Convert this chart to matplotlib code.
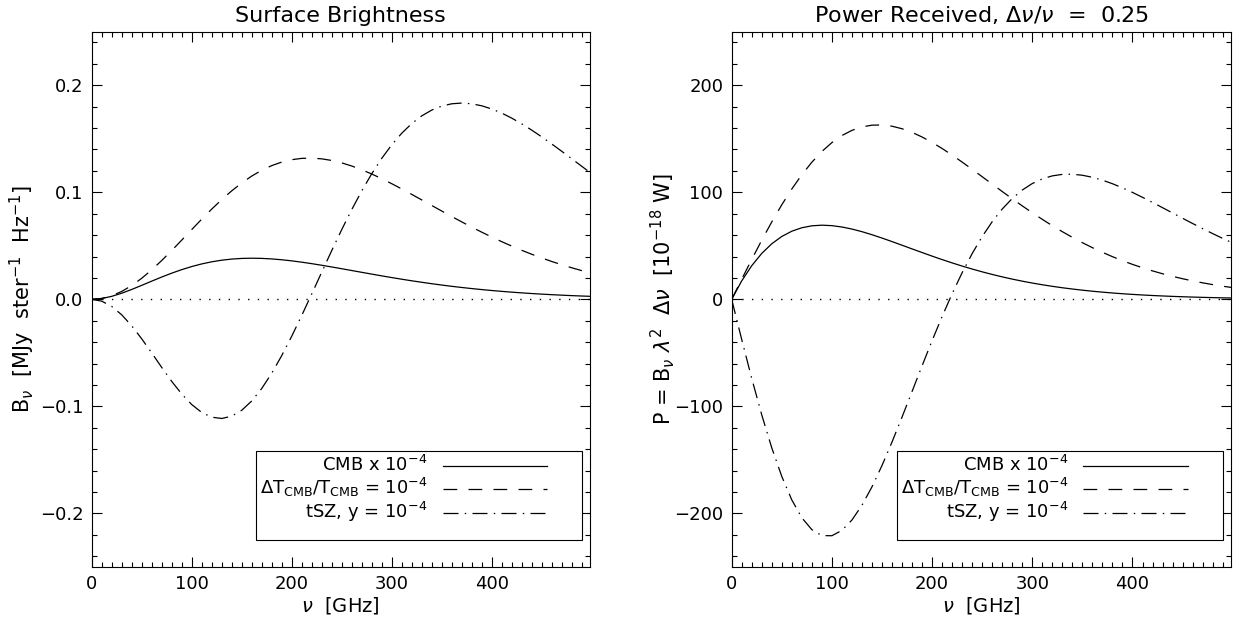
import matplotlib

matplotlib.use("Agg")
import matplotlib.pyplot as plt
from matplotlib.lines import Line2D
from matplotlib.legend_handler import HandlerLine2D
from matplotlib.ticker import MultipleLocator, FuncFormatter

plt.rcParams["font.family"] = "DejaVu Sans"
plt.rcParams["mathtext.fontset"] = "dejavusans"

# frequency grid [GHz]
nu = [0, 10, 20, 30, 40, 50, 60, 70, 80, 90, 100, 110, 120, 130, 140, 150, 160,
      170, 180, 190, 200, 210, 220, 230, 240, 250, 260, 270, 280, 290, 300, 310,
      320, 330, 340, 350, 360, 370, 380, 390, 400, 410, 420, 430, 440, 450, 460,
      470, 480, 490, 500]

# surface brightness [MJy/sr]
cmb_sb = [0.0, 0.00077, 0.00280, 0.00573, 0.00924, 0.01307, 0.01700, 0.02084,
          0.02446, 0.02775, 0.03064, 0.03309, 0.03507, 0.03658, 0.03762, 0.03823,
          0.03843, 0.03826, 0.03776, 0.03697, 0.03595, 0.03472, 0.03334, 0.03184,
          0.03024, 0.02860, 0.02692, 0.02524, 0.02357, 0.02193, 0.02034, 0.01880,
          0.01733, 0.01593, 0.01460, 0.01335, 0.01217, 0.01108, 0.01006, 0.00912,
          0.00825, 0.00745, 0.00671, 0.00604, 0.00543, 0.00487, 0.00436, 0.00390,
          0.00348, 0.00311, 0.00277]
dt_sb = [0.0, 0.00084, 0.00332, 0.00737, 0.01288, 0.01966, 0.02753, 0.03626,
         0.04560, 0.05532, 0.06517, 0.07490, 0.08430, 0.09318, 0.10137, 0.10873,
         0.11516, 0.12058, 0.12494, 0.12824, 0.13047, 0.13169, 0.13192, 0.13124,
         0.12973, 0.12746, 0.12454, 0.12104, 0.11706, 0.11268, 0.10799, 0.10308,
         0.09800, 0.09283, 0.08763, 0.08245, 0.07732, 0.07231, 0.06742, 0.06270,
         0.05816, 0.05382, 0.04968, 0.04576, 0.04206, 0.03858, 0.03532, 0.03227,
         0.02944, 0.02680, 0.02437]
tsz_sb = [0.0, -0.00167, -0.00657, -0.01441, -0.02469, -0.03681, -0.05002, -0.06355,
          -0.07660, -0.08839, -0.09826, -0.10564, -0.11007, -0.11128, -0.10913,
          -0.10362, -0.09490, -0.08323, -0.06896, -0.05251, -0.03435, -0.01497,
          0.00513, 0.02550, 0.04568, 0.06527, 0.08395, 0.10140, 0.11741, 0.13179,
          0.14443, 0.15527, 0.16426, 0.17144, 0.17684, 0.18056, 0.18269, 0.18335,
          0.18266, 0.18076, 0.17779, 0.17390, 0.16921, 0.16386, 0.15797, 0.15166,
          0.14503, 0.13818, 0.13120, 0.12418, 0.11716]

# received power [1e-18 W]
cmb_pw = [0.0, 17.23, 31.43, 42.90, 51.91, 58.74, 63.65, 66.89, 68.69, 69.28, 68.85,
          67.59, 65.67, 63.22, 60.38, 57.27, 53.96, 50.56, 47.13, 43.73, 40.39, 37.15,
          34.05, 31.10, 28.32, 25.70, 23.26, 21.00, 18.91, 16.99, 15.23, 13.63, 12.17,
          10.84, 9.65, 8.57, 7.60, 6.73, 5.95, 5.25, 4.63, 4.08, 3.59, 3.16, 2.77,
          2.43, 2.13, 1.86, 1.63, 1.42, 1.24]
dt_pw = [0.0, 18.79, 37.29, 55.23, 72.32, 88.35, 103.09, 116.38, 128.09, 138.12,
         146.43, 153.00, 157.86, 161.06, 162.71, 162.88, 161.73, 159.37, 155.97,
         151.66, 146.59, 140.90, 134.74, 128.22, 121.46, 114.56, 107.63, 100.73,
         93.94, 87.31, 80.89, 74.71, 68.81, 63.21, 57.91, 52.93, 48.26, 43.91, 39.87,
         36.13, 32.67, 29.49, 26.58, 23.91, 21.48, 19.26, 17.25, 15.43, 13.78, 12.29,
         10.95]
tsz_pw = [0.0, -37.49, -73.82, -107.90, -138.71, -165.43, -187.34, -204.00, -215.14,
          -220.69, -220.80, -215.79, -206.11, -192.34, -175.15, -155.23, -133.28,
          -110.01, -86.08, -62.10, -38.60, -16.02, 5.24, 24.91, 42.76, 58.67, 72.55,
          84.39, 94.22, 102.12, 108.18, 112.54, 115.34, 116.74, 116.88, 115.92, 114.03,
          111.35, 108.01, 104.15, 99.88, 95.31, 90.53, 85.63, 80.67, 75.73, 70.84,
          66.06, 61.42, 56.94, 52.65]

labels = [r"CMB x $10^{-4}$",
          r"$\Delta$T$_{\rm CMB}$/T$_{\rm CMB}$ = $10^{-4}$",
          r"tSZ, y = $10^{-4}$"]

LW = 0.9
DASH = (0, (11, 9))
DASHDOT = (0, (12, 5, 1.2, 5))
DOT = (0, (1, 6))


class ShortLine(HandlerLine2D):
    # legend sample only fills the left part of the handle slot (IDL-style box)
    def create_artists(self, legend, orig_handle, xdescent, ydescent, width,
                       height, fontsize, trans):
        return super().create_artists(legend, orig_handle, xdescent, ydescent,
                                      width * 0.77, height, fontsize, trans)


def draw_panel(ax, cmb, dt, tsz, ylim, ymaj, ymin, fmt, title, ylabel, ylabelpad):
    ax.plot(nu, cmb, color="black", lw=LW, ls="-")
    ax.plot(nu, dt, color="black", lw=LW, ls=DASH)
    ax.plot(nu, tsz, color="black", lw=LW, ls=DASHDOT)
    ax.axhline(0, color="black", lw=1.0, ls=DOT)

    ax.set_xlim(0, 498)
    ax.set_ylim(*ylim)
    ax.xaxis.set_major_locator(MultipleLocator(100))
    ax.xaxis.set_minor_locator(MultipleLocator(10))
    ax.yaxis.set_major_locator(MultipleLocator(ymaj))
    ax.yaxis.set_minor_locator(MultipleLocator(ymin))
    ax.yaxis.set_major_formatter(
        FuncFormatter(lambda v, p: (fmt % v).replace("-", "\u2212")))
    ax.tick_params(which="both", direction="in", top=True, right=True,
                   labelsize=13, width=0.8)
    ax.tick_params(which="major", length=7, pad=6)
    ax.tick_params(which="minor", length=3.5)
    for s in ax.spines.values():
        s.set_linewidth(0.8)

    ax.set_title(title, fontsize=16, pad=7)
    ax.set_xlabel(r"$\nu$  [GHz]", fontsize=14, labelpad=1)
    ax.set_ylabel(ylabel, fontsize=15, labelpad=ylabelpad)

    handles = [Line2D([], [], color="black", lw=LW, ls="-"),
               Line2D([], [], color="black", lw=LW, ls=DASH),
               Line2D([], [], color="black", lw=LW, ls=DASHDOT),
               Line2D([], [], lw=0)]
    leg = ax.legend(handles, labels + [" "], loc="lower right",
                    bbox_to_anchor=(0.984, 0.05), borderaxespad=0,
                    markerfirst=False, fancybox=False, edgecolor="black",
                    framealpha=1, fontsize=13, borderpad=0.22,
                    labelspacing=0.04, handlelength=7.5, handletextpad=0.83,
                    handleheight=0.3, handler_map={Line2D: ShortLine()})
    leg.get_texts()[-1].set_fontsize(2)
    leg.get_frame().set_linewidth(0.8)


fig = plt.figure(figsize=(12.37, 6.23), dpi=100)
ax1 = fig.add_axes([0.0741, 0.0899, 0.4028, 0.8592])
ax2 = fig.add_axes([0.5915, 0.0899, 0.4034, 0.8592])

draw_panel(ax1, cmb_sb, dt_sb, tsz_sb, (-0.25, 0.25), 0.1, 0.02, "%.1f",
           "Surface Brightness",
           r"B$_\nu$  [MJy  ster$^{-1}$  Hz$^{-1}$]", 2)
draw_panel(ax2, cmb_pw, dt_pw, tsz_pw, (-250, 250), 100, 20, "%d",
           r"Power Received, $\Delta\nu/\nu$  =  0.25",
           r"P = B$_\nu$ $\lambda^2$  $\Delta\nu$  [10$^{-18}$ W]", -2)

fig.savefig("out.png", dpi=100)
